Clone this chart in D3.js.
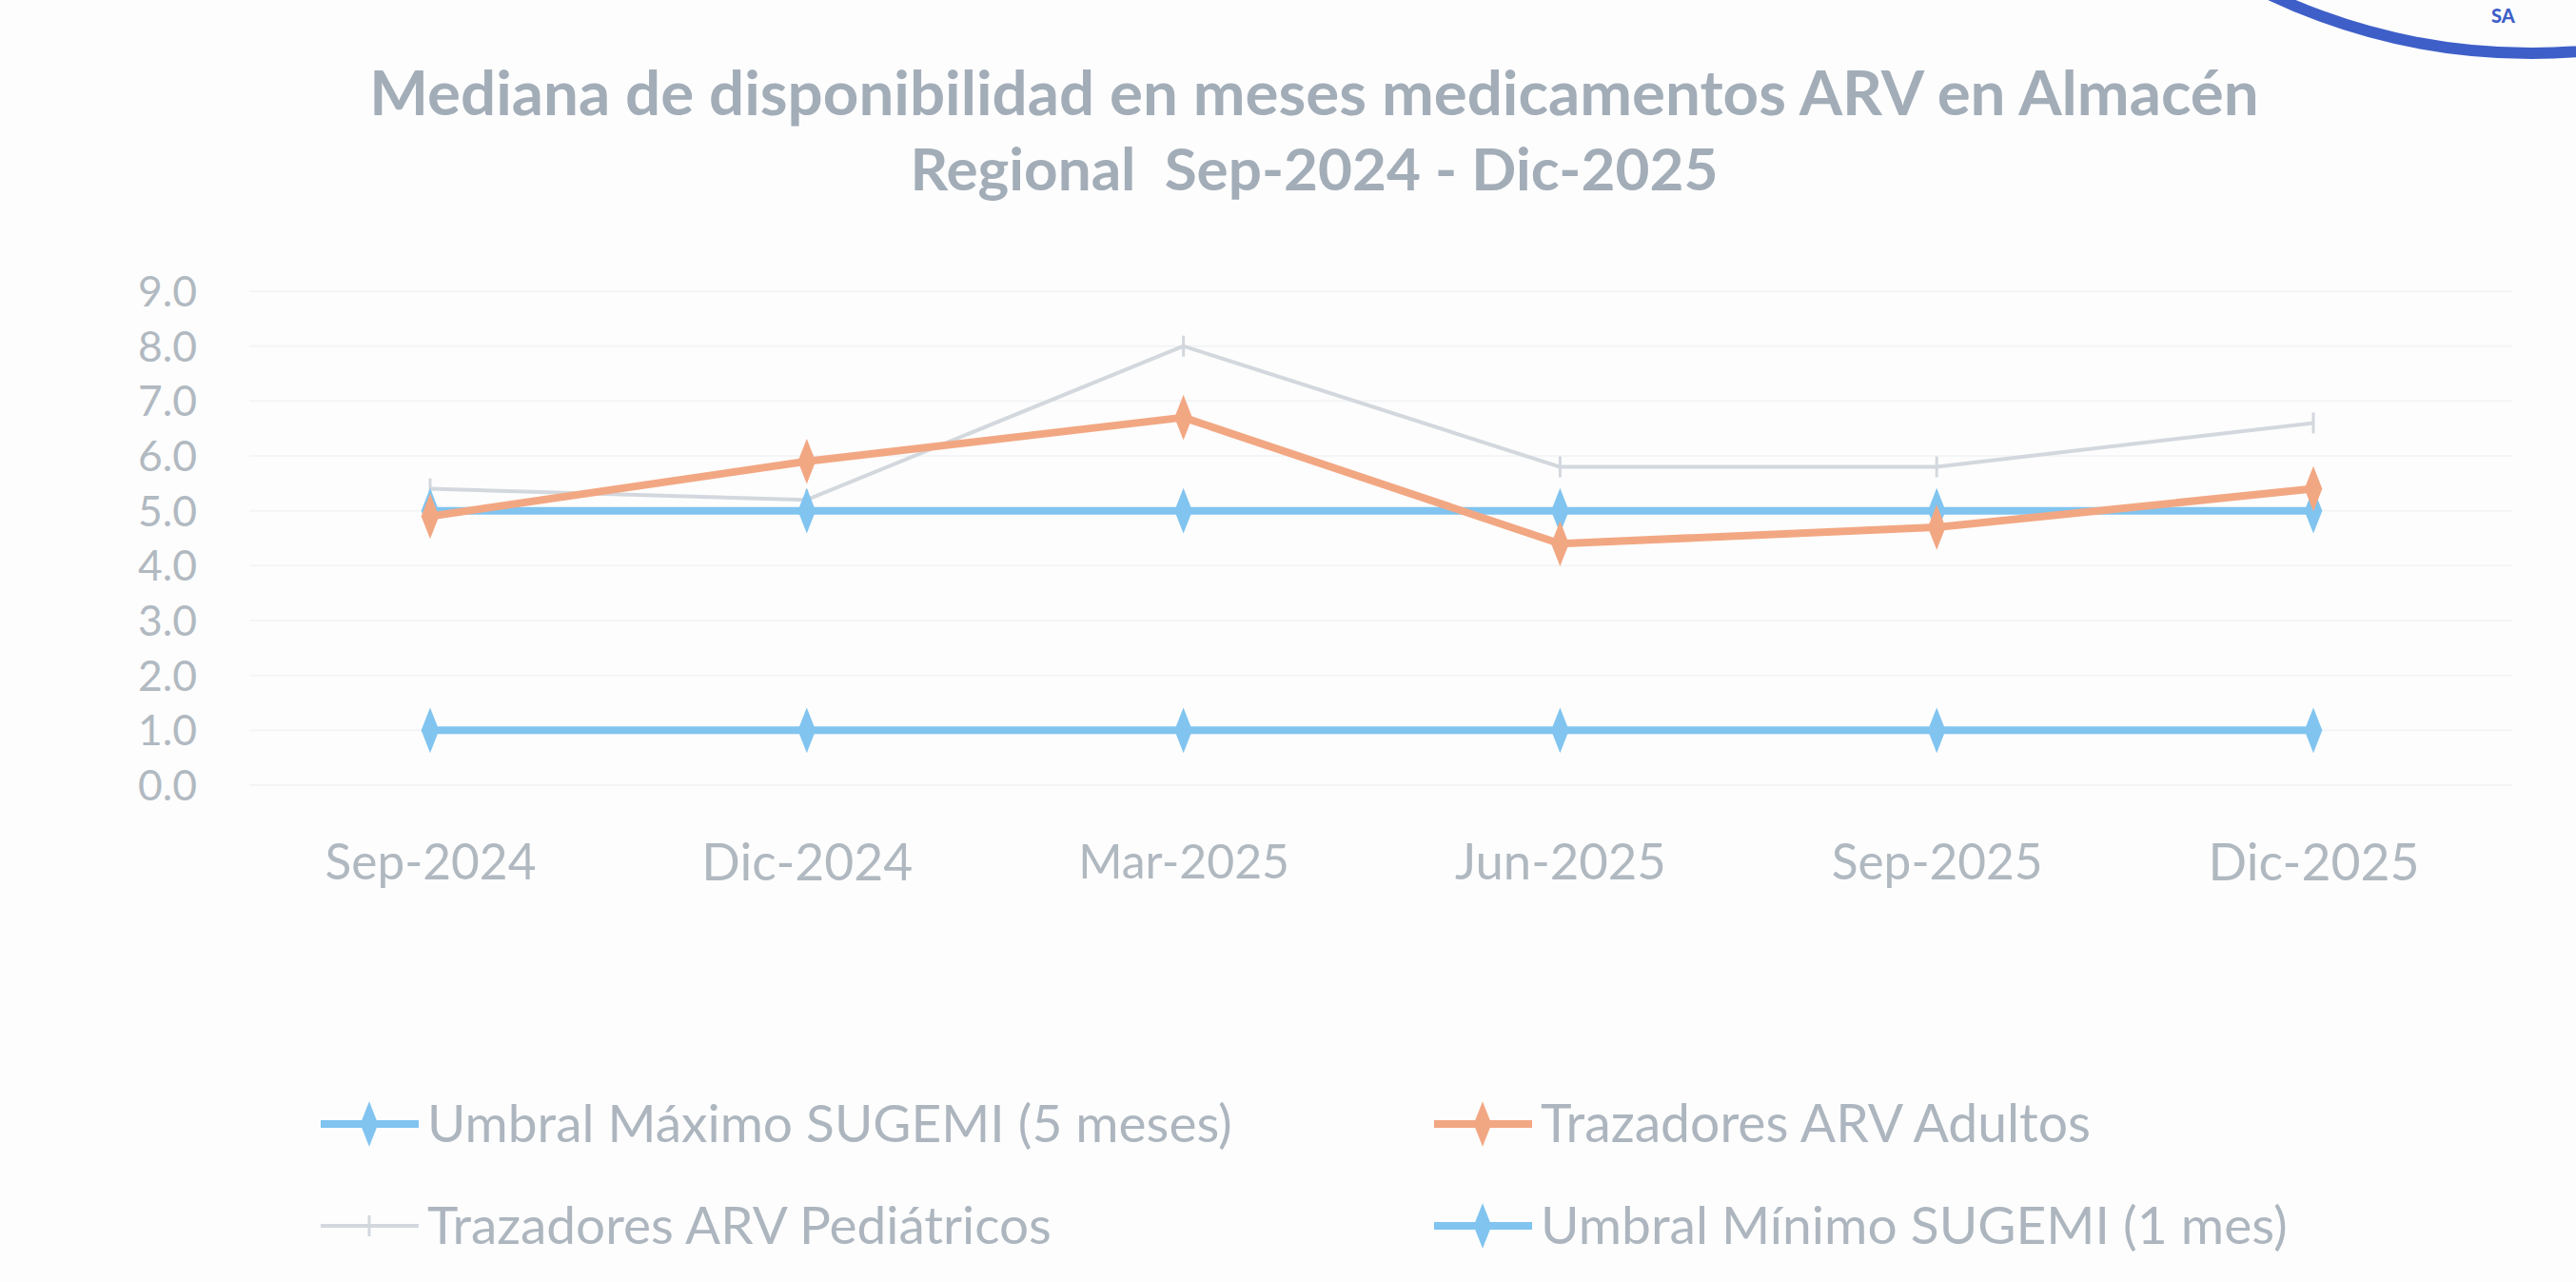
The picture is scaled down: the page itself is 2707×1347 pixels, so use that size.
<!DOCTYPE html>
<html><head><meta charset="utf-8">
<script src="https://cdn.jsdelivr.net/npm/d3@7"></script>
<style>html,body{margin:0;padding:0;background:#fdfdfd;overflow:hidden}</style>
</head><body>
<script>
const categories = ["Sep-2024","Dic-2024","Mar-2025","Jun-2025","Sep-2025","Dic-2025"];
const umbralMaximo = [5.0,5.0,5.0,5.0,5.0,5.0];
const adultos = [4.9,5.9,6.7,4.4,4.7,5.4];
const pediatricos = [5.4,5.2,8.0,5.8,5.8,6.6];
const umbralMinimo = [1.0,1.0,1.0,1.0,1.0,1.0];
const yTicks = [0,1,2,3,4,5,6,7,8,9];
const titleLines = ["Mediana de disponibilidad en meses medicamentos ARV en Almacén","Regional  Sep-2024 - Dic-2025"];
const seriesNames = ["Umbral Máximo SUGEMI (5 meses)","Trazadores ARV Adultos","Trazadores ARV Pediátricos","Umbral Mínimo SUGEMI (1 mes)"];

const W = 2707, H = 1347;
const FONT = "Lato, 'Open Sans', sans-serif";
const svg = d3.select("body").append("svg").attr("width", W).attr("height", H);
svg.append("rect").attr("width", W).attr("height", H).attr("fill", "#fdfdfd");

function fit(sel, target) {
  const base = +sel.attr("font-size");
  const w = sel.node().getComputedTextLength();
  sel.attr("font-size", base * target / w);
}

const x = d3.scalePoint().domain(categories).range([452, 2431]);
const y = d3.scaleLinear().domain([0, 9]).range([825, 306]);

// gridlines
svg.append("g").selectAll("line").data(yTicks).join("line")
  .attr("x1", 262).attr("x2", 2640)
  .attr("y1", d => y(d)).attr("y2", d => y(d))
  .attr("stroke", "#f3f5f6").attr("stroke-width", 2);

// y axis labels
const yAxis = svg.append("g").attr("transform", "translate(207,0)")
  .call(d3.axisLeft(y).tickValues(yTicks).tickFormat(d3.format(".1f")).tickSize(0).tickPadding(0));
yAxis.select(".domain").remove();
yAxis.selectAll("text").attr("font-family", FONT).attr("font-size", 40).attr("fill", "#b1b9c1")
  .attr("dy", "0.35em").each(function(){ fit(d3.select(this), 62); });

// x axis labels
const xAxis = svg.append("g").attr("transform", "translate(0,906)")
  .call(d3.axisBottom(x).tickSize(0).tickPadding(0));
xAxis.select(".domain").remove();
xAxis.selectAll("text").attr("font-family", FONT).attr("font-size", 40).attr("fill", "#b0b8c0")
  .attr("dy", "0.35em").each(function(){ fit(d3.select(this), 222); });

const line = d3.line().x((d, i) => x(categories[i])).y(d => y(d));
const diamond = d3.symbol().type(d3.symbolDiamond).size(420);

const series = [
  {name: seriesNames[0], values: umbralMaximo, color: "#80c4ef", width: 8, marker: "diamond"},
  {name: seriesNames[1], values: adultos, color: "#f2a783", width: 8, marker: "diamond"},
  {name: seriesNames[2], values: pediatricos, color: "#d3d8de", width: 4, marker: "cross"},
  {name: seriesNames[3], values: umbralMinimo, color: "#80c4ef", width: 8, marker: "diamond"}
];
const drawOrder = [2, 0, 3, 1];

function marker(g, s, cx, cy) {
  if (s.marker === "diamond") {
    g.append("path").attr("d", diamond).attr("transform", `translate(${cx},${cy}) scale(0.85,1.25)`)
      .attr("fill", s.color);
  } else {
    g.append("line").attr("x1", cx).attr("x2", cx).attr("y1", cy - 11).attr("y2", cy + 11)
      .attr("stroke", s.color).attr("stroke-width", 3);
  }
}

drawOrder.forEach(k => {
  const s = series[k];
  const g = svg.append("g");
  g.append("path").datum(s.values).attr("d", line).attr("fill", "none")
    .attr("stroke", s.color).attr("stroke-width", s.width).attr("stroke-linejoin", "round");
  s.values.forEach((v, i) => marker(g, s, x(categories[i]), y(v)));
});

// title
const tW = [1986, 849], tY = [98, 178];
titleLines.forEach((t, i) => {
  const tt = svg.append("text").text(t).attr("x", 1381).attr("y", tY[i]).attr("dy", "0.35em")
    .attr("text-anchor", "middle").attr("font-family", FONT).attr("font-weight", 700)
    .attr("font-size", 50).attr("fill", "#a2adb8").attr("xml:space", "preserve")
    .style("white-space", "pre");
  fit(tt, tW[i]);
});

// legend
const legPos = [[337, 1181], [1507, 1181], [337, 1288], [1507, 1288]];
const legTextW = [846, 578, 656, 785];
series.forEach((s, i) => {
  const [lx, ly] = legPos[i];
  const g = svg.append("g");
  g.append("line").attr("x1", lx).attr("x2", lx + 103).attr("y1", ly).attr("y2", ly)
    .attr("stroke", s.color).attr("stroke-width", s.width);
  marker(g, s, lx + 51, ly);
  const tt = g.append("text").text(s.name).attr("x", lx + 112).attr("y", ly).attr("dy", "0.35em")
    .attr("font-family", FONT).attr("font-size", 40).attr("fill", "#adb6bf");
  fit(tt, legTextW[i]);
});

// ink stamp fragment (top-right)
svg.append("ellipse").attr("cx", 2660).attr("cy", -500).attr("rx", 600).attr("ry", 556)
  .attr("fill", "none").attr("stroke", "#3e5fc8").attr("stroke-width", 12);
svg.append("text").text("SA").attr("x", 2618).attr("y", 24).attr("font-family", FONT)
  .attr("font-weight", 900).attr("font-size", 20).attr("fill", "#3e5fc8");
</script>
</body></html>
